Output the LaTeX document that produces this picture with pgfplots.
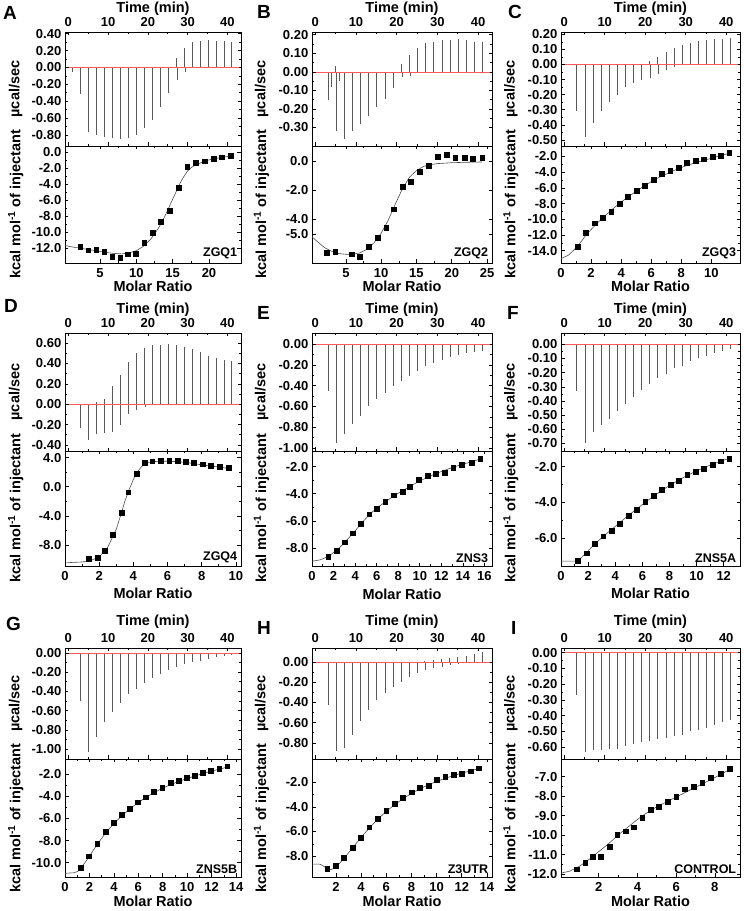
\documentclass[border=0pt]{standalone}
\usepackage{fontspec}
\setmainfont{Liberation Sans}
\usepackage{pgfplots}
\pgfplotsset{compat=1.18}
\pgfplotsset{
 base/.style={scale only axis, axis line style={line width=0.8pt}, tick align=inside,
   major tick length=3.5pt, minor tick length=2pt, every tick/.style={black, line width=0.6pt},
   minor x tick num=1, minor y tick num=1,
   tick label style={font=\bfseries\fontsize{13}{14}\selectfont},
   label style={font=\bfseries\fontsize{14.5}{15}\selectfont},
   /pgf/number format/assume math mode=true,
   yticklabel style={anchor=east, inner sep=0pt, xshift=-3.5pt},
   ylabel style={at={(axis description cs:-0.28,0.5)}, anchor=center}},
 top/.style={base, xmin=-0.8, xmax=43.4, xtick={0,10,20,30,40}, xticklabel pos=upper,
   xticklabel style={anchor=base, inner sep=0pt, yshift=5pt},
   xlabel={Time (min)}, xlabel style={at={(axis description cs:0.5,1)}, anchor=base, inner sep=0pt, yshift=#1},
   ylabel={µcal/sec},
   yticklabel style={/pgf/number format/.cd, fixed, fixed zerofill, precision=2}},
 top/.default=19pt,
 bot/.style={base, xlabel={Molar Ratio},
   xticklabel style={anchor=north, inner sep=0pt, yshift=-5.5pt},
   xlabel style={at={(axis description cs:0.5,0)}, anchor=base, inner sep=0pt, yshift=-#1},
   ylabel={kcal mol\textsuperscript{-1} of injectant},
   yticklabel style={/pgf/number format/.cd, fixed, fixed zerofill, precision=1}},
 bot/.default=30pt,
 spk/.style={ycomb, black!65, line width=0.75pt, mark=none},
 bsl/.style={red!65, line width=0.5pt, mark=none},
 fit/.style={black!70, line width=0.6pt, mark=none},
 pts/.style={only marks, mark=square*, mark size=2.4pt, black},
}
\newcommand{\panlab}[1]{\node[anchor=south east, inner sep=1pt, font=\bfseries\fontsize{12.5}{13}\selectfont] at (rel axis cs:0.985,0.02) {#1};}
\begin{document}
\begin{tikzpicture}
\useasboundingbox (0,0) rectangle (744pt,911pt);
\tikzset{letter/.style={anchor=base west, inner sep=0pt, font=\bfseries\fontsize{19}{20}\selectfont}}
\node[letter] at (3pt,891pt) {A};
\node[letter] at (257pt,892pt) {B};
\node[letter] at (508pt,892pt) {C};
\node[letter] at (4pt,598pt) {D};
\node[letter] at (257pt,591pt) {E};
\node[letter] at (507pt,591pt) {F};
\node[letter] at (6pt,280pt) {G};
\node[letter] at (257pt,276pt) {H};
\node[letter] at (511pt,276pt) {I};

% ---------------- A ----------------
\begin{axis}[top=19.5pt, at={(65pt,879pt)}, anchor=north west, width=176pt, height=114pt,
  ymin=-0.93, ymax=0.42, ytick={-0.8,-0.6,-0.4,-0.2,0,0.2,0.4}]
\addplot[black, line width=0.5pt] coordinates {(0,0)(43,0)};
\addplot[spk] coordinates {(1.0,-0.05)(3.1,-0.31)(5.1,-0.77)(7.1,-0.80)(9.1,-0.82)(11.1,-0.84)(13.1,-0.85)(15.1,-0.84)(17.1,-0.80)(19.1,-0.72)(21.1,-0.62)(23.1,-0.47)(25.1,-0.30)(27.1,0.11)(27.3,-0.15)(29.1,0.23)(29.4,-0.05)(31.1,0.30)(33.1,0.31)(35.1,0.32)(37.1,0.31)(39.1,0.31)(41.1,0.30)};
\addplot[bsl] coordinates {(0.3,0)(43,0)};
\end{axis}
\begin{axis}[bot=29pt, at={(65pt,765pt)}, anchor=north west, width=176pt, height=117pt,
  xmin=0.2, xmax=24.4, xtick={5,10,15,20}, ymin=-13.9, ymax=0.8, ytick={-12,-10,-8,-6,-4,-2,0}]
\addplot[fit] coordinates {(0.2,-11.7)(1,-11.85)(2,-12.0)(3,-12.15)(4,-12.3)(5,-12.45)(6,-12.6)(7,-12.7)(8,-12.75)(9,-12.65)(10,-12.35)(11,-11.8)(12,-10.9)(13,-9.6)(13.5,-8.8)(14,-7.9)(14.5,-6.9)(15,-5.9)(15.5,-4.9)(16,-3.9)(16.5,-3.1)(17,-2.4)(17.5,-1.95)(18,-1.65)(19,-1.25)(20,-0.95)(21,-0.75)(22,-0.6)(23,-0.45)};
\addplot[pts] coordinates {(2.3,-11.9)(3.4,-12.3)(4.5,-12.2)(5.6,-12.5)(6.7,-13.1)(7.8,-13.2)(8.8,-12.8)(9.9,-12.7)(11.1,-11.4)(12.3,-10.1)(13.4,-8.7)(14.6,-7.3)(15.8,-4.4)(17.0,-1.8)(18.2,-1.3)(19.4,-1.1)(20.6,-0.8)(21.8,-0.6)(23.0,-0.4)};
\panlab{ZGQ1}
\end{axis}

% ---------------- B ----------------
\begin{axis}[top=19.5pt, at={(312pt,879pt)}, anchor=north west, width=180pt, height=114pt,
  ymin=-0.40, ymax=0.215, ytick={-0.3,-0.2,-0.1,0,0.1,0.2}]
\addplot[black, line width=0.5pt] coordinates {(0,0)(43,0)};
\addplot[spk] coordinates {(3.1,-0.15)(3.9,-0.08)(4.9,0.03)(5.1,-0.32)(5.8,-0.05)(7.1,-0.36)(9.1,-0.32)(11.1,-0.28)(13.1,-0.24)(15.1,-0.19)(17.1,-0.145)(19.1,-0.086)(21.1,0.04)(21.3,-0.03)(23.1,0.09)(23.3,-0.02)(25.1,0.13)(27.1,0.155)(29.1,0.16)(31.1,0.17)(33.1,0.17)(35.1,0.175)(37.1,0.17)(39.1,0.16)(41.1,0.16)};
\addplot[bsl] coordinates {(0.3,0)(43,0)};
\end{axis}
\begin{axis}[bot=29pt, at={(312pt,765pt)}, anchor=north west, width=180pt, height=117pt,
  xmin=0.2, xmax=25.7, xtick={5,10,15,20,25}, ymin=-7.0, ymax=1.05, ytick={-5,-4,-2,0}]
\addplot[fit] coordinates {(0.2,-5.2)(1,-5.55)(2,-5.95)(3,-6.2)(4,-6.35)(5,-6.4)(6,-6.4)(7,-6.3)(8,-6.05)(9,-5.6)(10,-4.95)(11,-4.05)(12,-2.95)(13,-1.9)(14,-1.1)(15,-0.64)(16,-0.36)(17,-0.23)(18,-0.16)(20,-0.1)(22,-0.07)(24.3,-0.05)};
\addplot[pts] coordinates {(2.3,-6.27)(3.5,-6.2)(5.8,-6.4)(7.0,-6.55)(8.2,-5.9)(9.5,-5.25)(10.7,-4.57)(11.8,-3.3)(13.0,-1.73)(14.2,-1.43)(15.5,-0.73)(16.7,-0.3)(18.0,0.34)(19.3,0.45)(20.5,0.25)(21.8,0.23)(23.0,0.18)(24.3,0.25)};
\panlab{ZGQ2}
\end{axis}

% ---------------- C ----------------
\begin{axis}[top=19.5pt, at={(561pt,879pt)}, anchor=north west, width=179pt, height=114pt,
  ymin=-0.54, ymax=0.215, ytick={-0.5,-0.4,-0.3,-0.2,-0.1,0,0.1,0.2}]
\addplot[black, line width=0.5pt] coordinates {(0,0)(43,0)};
\addplot[spk] coordinates {(3.1,-0.31)(5.1,-0.48)(7.1,-0.39)(9.1,-0.31)(11.1,-0.25)(13.1,-0.20)(15.1,-0.15)(17.1,-0.12)(19.1,-0.10)(21.1,0.02)(21.3,-0.09)(23.1,0.05)(23.3,-0.06)(25.1,0.08)(25.3,-0.04)(27.1,0.11)(27.3,-0.02)(29.1,0.13)(31.1,0.14)(33.1,0.155)(35.1,0.16)(37.1,0.17)(39.1,0.17)(41.1,0.175)};
\addplot[bsl] coordinates {(0.3,0)(43,0)};
\end{axis}
\begin{axis}[bot=29pt, at={(561pt,765pt)}, anchor=north west, width=179pt, height=117pt,
  xmin=0, xmax=11.9, xtick={0,2,4,6,8,10}, ymin=-15.55, ymax=-0.68, ytick={-14,-12,-10,-8,-6,-4,-2}]
\addplot[fit] coordinates {(0,-15.0)(0.5,-14.55)(1.1,-13.45)(1.66,-12.0)(2.22,-10.85)(2.78,-9.8)(3.34,-8.85)(3.9,-7.95)(4.46,-7.15)(5.02,-6.4)(5.58,-5.7)(6.14,-5.05)(6.7,-4.5)(7.26,-4.0)(7.82,-3.55)(8.38,-3.15)(8.94,-2.8)(9.5,-2.5)(10.06,-2.2)(10.62,-1.9)(11.18,-1.62)};
\addplot[pts] coordinates {(1.1,-13.43)(1.66,-11.74)(2.22,-10.5)(2.78,-9.83)(3.34,-9.0)(3.9,-8.0)(4.46,-7.1)(5.02,-6.4)(5.58,-5.7)(6.14,-4.95)(6.7,-4.25)(7.26,-3.8)(7.82,-3.45)(8.38,-2.85)(8.94,-2.5)(9.5,-2.35)(10.06,-2.0)(10.62,-1.87)(11.18,-1.57)};
\panlab{ZGQ3}
\end{axis}

% ---------------- D ----------------
\begin{axis}[top=19pt, at={(65pt,578pt)}, anchor=north west, width=176pt, height=118pt,
  ymin=-0.46, ymax=0.70, ytick={-0.4,-0.2,0,0.2,0.4,0.6}]
\addplot[black, line width=0.5pt] coordinates {(0,0)(43,0)};
\addplot[spk] coordinates {(3.1,-0.23)(5.1,-0.35)(7.0,0.02)(7.1,-0.29)(9.0,0.05)(9.1,-0.28)(11.0,0.18)(11.1,-0.27)(13.0,0.29)(13.1,-0.20)(15.0,0.41)(15.1,-0.10)(17.0,0.50)(17.1,-0.06)(19.1,0.55)(19.3,-0.03)(21.1,0.58)(23.1,0.58)(25.1,0.59)(27.1,0.58)(29.1,0.56)(31.1,0.54)(33.1,0.51)(35.1,0.47)(37.1,0.45)(39.1,0.43)(41.1,0.42)};
\addplot[bsl] coordinates {(0.3,0)(43,0)};
\end{axis}
\begin{axis}[bot=33pt, at={(65pt,460pt)}, anchor=north west, width=176pt, height=115pt,
  xmin=0, xmax=10.3, xtick={0,2,4,6,8,10}, ymin=-10.85, ymax=4.9, ytick={-8,-4,0,4}]
\addplot[fit] coordinates {(0.1,-10.4)(1.0,-10.3)(1.5,-10.1)(2.0,-9.6)(2.5,-8.3)(3.0,-5.8)(3.3,-3.6)(3.5,-2.0)(3.75,-0.4)(4.0,1.0)(4.25,2.1)(4.5,2.8)(4.75,3.2)(5.0,3.4)(5.5,3.5)(6.0,3.5)(6.5,3.45)(7.0,3.35)(7.5,3.2)(8.0,3.0)(8.5,2.85)(9.0,2.7)(9.6,2.5)};
\addplot[pts] coordinates {(1.4,-9.9)(1.9,-9.75)(2.3,-8.75)(2.8,-6.6)(3.3,-3.5)(3.7,-0.75)(4.2,1.8)(4.65,3.3)(5.1,3.5)(5.6,3.55)(6.1,3.6)(6.6,3.55)(7.05,3.4)(7.55,3.3)(8.05,3.1)(8.55,2.9)(9.05,2.75)(9.6,2.6)};
\panlab{ZGQ4}
\end{axis}

% ---------------- E ----------------
\begin{axis}[top=19pt, at={(312pt,578pt)}, anchor=north west, width=180pt, height=118pt,
  ymin=-1.03, ymax=0.11, ytick={-1,-0.8,-0.6,-0.4,-0.2,0}]
\addplot[black, line width=0.5pt] coordinates {(0,0)(43,0)};
\addplot[spk] coordinates {(3.1,-0.45)(5.1,-0.95)(7.1,-0.87)(9.1,-0.77)(11.1,-0.69)(13.1,-0.60)(15.1,-0.53)(17.1,-0.47)(19.1,-0.40)(21.1,-0.35)(23.1,-0.31)(25.1,-0.26)(27.1,-0.21)(29.1,-0.18)(31.1,-0.15)(33.1,-0.12)(35.1,-0.10)(37.1,-0.08)(39.1,-0.07)(41.1,-0.06)};
\addplot[bsl] coordinates {(0.3,0)(43,0)};
\end{axis}
\begin{axis}[bot=33pt, at={(312pt,460pt)}, anchor=north west, width=180pt, height=115pt,
  xmin=0, xmax=16.7, xtick={0,2,4,6,8,10,12,14,16}, ymin=-9.3, ymax=-0.86, ytick={-8,-6,-4,-2}]
\addplot[fit] coordinates {(0,-8.95)(0.75,-8.85)(1.5,-8.6)(2.3,-8.15)(3.0,-7.6)(3.8,-6.9)(4.5,-6.25)(5.3,-5.55)(6.0,-5.05)(6.8,-4.6)(7.6,-4.15)(8.4,-3.78)(9.1,-3.45)(9.9,-3.1)(10.7,-2.8)(11.5,-2.52)(12.3,-2.28)(13.1,-2.05)(13.9,-1.85)(14.8,-1.65)(15.6,-1.45)};
\addplot[pts] coordinates {(1.5,-8.6)(2.3,-8.2)(3.0,-7.55)(3.8,-6.9)(4.5,-6.2)(5.3,-5.5)(6.0,-5.1)(6.8,-4.6)(7.6,-4.1)(8.4,-3.85)(9.1,-3.5)(9.9,-2.95)(10.7,-2.65)(11.5,-2.5)(12.3,-2.45)(13.1,-2.1)(13.9,-1.85)(14.8,-1.7)(15.6,-1.4)};
\panlab{ZNS3}
\end{axis}

% ---------------- F ----------------
\begin{axis}[top=19pt, at={(561pt,578pt)}, anchor=north west, width=179pt, height=118pt,
  ymin=-0.753, ymax=0.08, ytick={-0.7,-0.6,-0.5,-0.4,-0.3,-0.2,-0.1,0}]
\addplot[black, line width=0.5pt] coordinates {(0,0)(43,0)};
\addplot[spk] coordinates {(3.1,-0.33)(5.1,-0.70)(7.1,-0.62)(9.1,-0.57)(11.1,-0.53)(13.1,-0.47)(15.1,-0.42)(17.1,-0.37)(19.1,-0.32)(21.1,-0.28)(23.1,-0.24)(25.1,-0.21)(27.1,-0.17)(29.1,-0.15)(31.1,-0.12)(33.1,-0.10)(35.1,-0.08)(37.1,-0.06)(39.1,-0.045)(41.1,-0.035)};
\addplot[bsl] coordinates {(0.3,0)(43,0)};
\end{axis}
\begin{axis}[bot=33pt, at={(561pt,460pt)}, anchor=north west, width=179pt, height=115pt,
  xmin=0, xmax=13.2, xtick={0,2,4,6,8,10,12}, ymin=-7.57, ymax=-1.13, ytick={-6,-4,-2}]
\addplot[fit] coordinates {(0,-7.3)(1.1,-7.3)(1.25,-7.28)(1.87,-6.83)(2.49,-6.33)(3.11,-5.92)(3.73,-5.52)(4.35,-5.13)(4.97,-4.74)(5.59,-4.37)(6.21,-4.0)(6.83,-3.66)(7.45,-3.33)(8.07,-3.03)(8.69,-2.76)(9.31,-2.5)(9.93,-2.27)(10.55,-2.06)(11.17,-1.87)(11.79,-1.7)(12.41,-1.54)};
\addplot[pts] coordinates {(1.25,-7.28)(1.87,-6.85)(2.49,-6.3)(3.11,-5.9)(3.73,-5.6)(4.35,-5.2)(4.97,-4.75)(5.59,-4.4)(6.21,-3.95)(6.83,-3.65)(7.45,-3.3)(8.07,-3.0)(8.69,-2.8)(9.31,-2.45)(9.93,-2.3)(10.55,-2.1)(11.17,-1.9)(11.79,-1.7)(12.41,-1.55)};
\panlab{ZNS5A}
\end{axis}

% ---------------- G ----------------
\begin{axis}[top=22pt, at={(65pt,263pt)}, anchor=north west, width=176pt, height=111pt,
  ymin=-1.10, ymax=0.05, ytick={-1,-0.8,-0.6,-0.4,-0.2,0}]
\addplot[black, line width=0.5pt] coordinates {(0,0)(43,0)};
\addplot[spk] coordinates {(3.1,-0.50)(5.1,-1.03)(7.1,-0.87)(9.1,-0.72)(11.1,-0.61)(13.1,-0.52)(15.1,-0.43)(17.1,-0.37)(19.1,-0.31)(21.1,-0.26)(23.1,-0.22)(25.1,-0.18)(27.1,-0.15)(29.1,-0.12)(31.1,-0.10)(33.1,-0.08)(35.1,-0.06)(37.1,-0.045)(39.1,-0.035)(41.1,-0.02)};
\addplot[bsl] coordinates {(0.3,0)(43,0)};
\end{axis}
\begin{axis}[bot=30pt, at={(65pt,152pt)}, anchor=north west, width=176pt, height=118pt,
  xmin=0, xmax=14.4, xtick={0,2,4,6,8,10,12,14}, ymin=-11.28, ymax=-0.65, ytick={-10,-8,-6,-4,-2}]
\addplot[fit] coordinates {(0,-10.95)(0.7,-10.9)(1.0,-10.8)(1.3,-10.5)(1.97,-9.45)(2.63,-8.35)(3.3,-7.35)(3.96,-6.5)(4.63,-5.8)(5.29,-5.15)(5.96,-4.6)(6.62,-4.1)(7.29,-3.68)(7.95,-3.3)(8.62,-2.97)(9.28,-2.68)(9.95,-2.42)(10.61,-2.18)(11.28,-1.96)(11.94,-1.76)(12.61,-1.57)(13.27,-1.38)};
\addplot[pts] coordinates {(1.3,-10.45)(1.97,-9.4)(2.63,-8.26)(3.3,-7.2)(3.96,-6.4)(4.63,-5.7)(5.29,-5.1)(5.96,-4.55)(6.62,-4.1)(7.29,-3.6)(7.95,-3.26)(8.62,-2.8)(9.28,-2.6)(9.95,-2.36)(10.61,-2.12)(11.28,-1.85)(11.94,-1.67)(12.61,-1.55)(13.27,-1.3)};
\panlab{ZNS5B}
\end{axis}

% ---------------- H ----------------
\begin{axis}[top=22pt, at={(312pt,263pt)}, anchor=north west, width=180pt, height=111pt,
  ymin=-0.96, ymax=0.14, ytick={-0.8,-0.6,-0.4,-0.2,0}]
\addplot[black, line width=0.5pt] coordinates {(0,0)(43,0)};
\addplot[spk] coordinates {(3.1,-0.42)(5.1,-0.88)(7.1,-0.85)(9.1,-0.72)(11.1,-0.58)(13.1,-0.47)(15.1,-0.38)(17.1,-0.31)(19.1,-0.25)(21.1,-0.20)(23.1,-0.15)(25.1,-0.11)(26.9,0.01)(27.1,-0.08)(28.9,0.02)(29.1,-0.06)(30.9,0.035)(31.1,-0.045)(32.9,0.04)(33.1,-0.03)(34.9,0.05)(35.1,-0.02)(37.1,0.06)(39.1,0.085)(41.1,0.10)};
\addplot[bsl] coordinates {(0.3,0)(43,0)};
\end{axis}
\begin{axis}[bot=30pt, at={(312pt,152pt)}, anchor=north west, width=180pt, height=118pt,
  xmin=0.1, xmax=14.4, xtick={2,4,6,8,10,12,14}, ymin=-9.7, ymax=-0.1, ytick={-8,-6,-4,-2}]
\addplot[fit] coordinates {(0.1,-8.65)(0.7,-8.65)(1.0,-8.8)(1.3,-9.05)(1.6,-9.1)(1.97,-8.95)(2.64,-8.2)(3.31,-7.35)(3.98,-6.5)(4.65,-5.72)(5.32,-5.0)(5.99,-4.38)(6.66,-3.82)(7.33,-3.33)(8.0,-2.9)(8.67,-2.53)(9.34,-2.2)(10.01,-1.92)(10.68,-1.67)(11.35,-1.45)(12.02,-1.25)(12.69,-1.06)(13.36,-0.88)};
\addplot[pts] coordinates {(1.3,-9.05)(1.97,-8.8)(2.64,-8.1)(3.31,-7.3)(3.98,-6.5)(4.65,-5.65)(5.32,-4.95)(5.99,-4.3)(6.66,-3.75)(7.33,-3.25)(8.0,-2.8)(8.67,-2.45)(9.34,-2.25)(10.01,-1.8)(10.68,-1.55)(11.35,-1.4)(12.02,-1.3)(12.69,-1.1)(13.36,-0.85)};
\panlab{Z3UTR}
\end{axis}

% ---------------- I ----------------
\begin{axis}[top=22pt, at={(561pt,263pt)}, anchor=north west, width=179pt, height=111pt,
  ymin=-0.675, ymax=0.03, ytick={-0.6,-0.5,-0.4,-0.3,-0.2,-0.1,0}]
\addplot[black, line width=0.5pt] coordinates {(0,0)(43,0)};
\addplot[spk] coordinates {(3.1,-0.27)(5.1,-0.63)(7.1,-0.62)(9.1,-0.62)(11.1,-0.61)(13.1,-0.61)(15.1,-0.59)(17.1,-0.58)(19.1,-0.57)(21.1,-0.56)(23.1,-0.55)(25.1,-0.54)(27.1,-0.53)(29.1,-0.52)(31.1,-0.50)(33.1,-0.49)(35.1,-0.48)(37.1,-0.46)(39.1,-0.44)(41.1,-0.43)};
\addplot[bsl] coordinates {(0.3,0)(43,0)};
\end{axis}
\begin{axis}[bot=30pt, at={(561pt,152pt)}, anchor=north west, width=179pt, height=118pt,
  xmin=0.05, xmax=9.3, xtick={2,4,6,8}, ymin=-12.15, ymax=-6.1, ytick={-12,-11,-10,-9,-8,-7}]
\addplot[fit] coordinates {(0.05,-11.95)(0.5,-11.85)(1.0,-11.6)(1.5,-11.25)(2.0,-10.85)(2.5,-10.45)(3.0,-10.0)(3.5,-9.6)(4.0,-9.2)(4.5,-8.85)(5.0,-8.55)(5.5,-8.3)(6.0,-8.05)(6.5,-7.8)(7.0,-7.55)(7.5,-7.3)(8.0,-7.05)(8.75,-6.65)};
\addplot[pts] coordinates {(0.85,-11.75)(1.3,-11.4)(1.7,-11.1)(2.1,-11.1)(2.55,-10.6)(2.95,-10.0)(3.4,-9.8)(3.8,-9.6)(4.25,-9.1)(4.7,-8.7)(5.1,-8.55)(5.55,-8.3)(6.0,-8.05)(6.45,-7.65)(6.9,-7.5)(7.35,-7.3)(7.8,-7.05)(8.3,-6.85)(8.75,-6.6)};
\panlab{CONTROL}
\end{axis}
\end{tikzpicture}
\end{document}
